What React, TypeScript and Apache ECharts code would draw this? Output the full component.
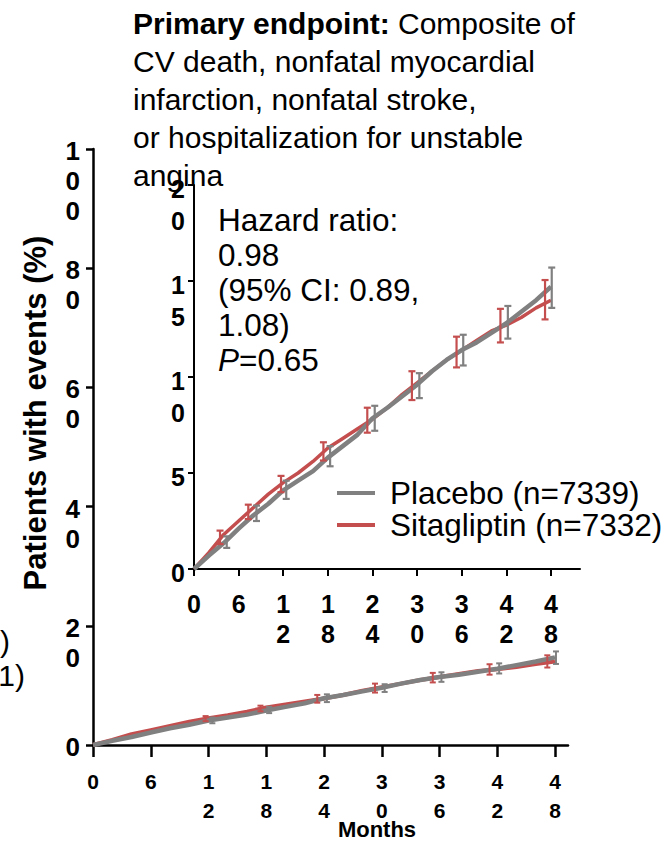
import { useEffect, useRef } from "react";
import * as echarts from "echarts";

const FONT = "'Liberation Sans', Arial, Helvetica, sans-serif";
const GRAY = "#808080";
const RED = "#c44e4e";

// Kaplan–Meier cumulative incidence (%), read every 2 months
const months = [0, 2, 4, 6, 8, 10, 12, 14, 16, 18, 20, 22, 24, 26, 28, 30, 32, 34, 36, 38, 40, 42, 44, 46, 48];
const placeboPct = [0, 0.7, 1.35, 2.1, 2.8, 3.4, 4.1, 4.6, 5.1, 5.8, 6.4, 7.0, 7.85, 8.4, 9.0, 9.6, 10.3, 10.9, 11.4, 11.8, 12.3, 12.8, 13.4, 14.0, 14.7];
const sitagliptinPct = [0, 0.85, 1.8, 2.5, 3.2, 3.9, 4.5, 5.0, 5.6, 6.3, 6.8, 7.3, 7.8, 8.4, 9.1, 9.7, 10.3, 10.9, 11.4, 11.9, 12.4, 12.7, 13.1, 13.6, 14.0];

// 95% confidence intervals shown as error bars
const placeboCiMonths = [4.4, 8.4, 12.4, 18.3, 24.3, 30.3, 36.2, 42.2, 48.1];
const placeboCiLow = [1.1, 2.5, 3.65, 5.35, 7.2, 8.9, 10.6, 12.0, 13.6];
const placeboCiHigh = [1.7, 3.3, 4.6, 6.4, 8.5, 10.2, 12.2, 13.7, 15.7];
const sitagliptinCiMonths = [3.5, 7.3, 11.7, 17.4, 23.3, 29.3, 35.3, 41.2, 47.2];
const sitagliptinCiLow = [1.3, 2.6, 4.0, 5.65, 7.1, 8.8, 10.5, 11.8, 13.0];
const sitagliptinCiHigh = [2.0, 3.35, 4.85, 6.6, 8.4, 10.3, 12.1, 13.55, 15.05];

const monthTicks = [0, 6, 12, 18, 24, 30, 36, 42, 48];

const PLACEBO = "Placebo (n=7339)";
const SITAGLIPTIN = "Sitagliptin (n=7332)";

const stackDigits = (v: number) => String(v).split("").join("\n");

const pairs = (xs: number[], ys: number[]) => xs.map((x, i) => [x, ys[i]]);
const triples = (xs: number[], lo: number[], hi: number[], from: number) =>
  xs.map((x, i) => [x, lo[i], hi[i]]).slice(from);

const ciRender = (color: string, cap: number, width: number) => (_p: any, api: any) => {
  const x = api.value(0);
  const a = api.coord([x, api.value(1)]);
  const b = api.coord([x, api.value(2)]);
  const style = { stroke: color, lineWidth: width };
  return {
    type: "group",
    children: [
      { type: "line", shape: { x1: a[0], y1: a[1], x2: b[0], y2: b[1] }, style },
      { type: "line", shape: { x1: a[0] - cap, y1: a[1], x2: a[0] + cap, y2: a[1] }, style },
      { type: "line", shape: { x1: b[0] - cap, y1: b[1], x2: b[0] + cap, y2: b[1] }, style },
    ],
  };
};

// idx: axis pair; ciFrom: first CI bar drawn on that panel
function buildSeries(idx: number, redW: number, grayW: number, cap: number, barW: number, ciFrom: number) {
  return [
    {
      name: SITAGLIPTIN,
      type: "line",
      xAxisIndex: idx,
      yAxisIndex: idx,
      data: pairs(months, sitagliptinPct),
      symbol: "none",
      color: RED,
      lineStyle: { color: RED, width: redW },
      z: 2,
    },
    {
      name: PLACEBO,
      type: "line",
      xAxisIndex: idx,
      yAxisIndex: idx,
      data: pairs(months, placeboPct),
      symbol: "none",
      color: GRAY,
      lineStyle: { color: GRAY, width: grayW },
      z: 3,
    },
    {
      name: "Sitagliptin CI",
      type: "custom",
      xAxisIndex: idx,
      yAxisIndex: idx,
      data: triples(sitagliptinCiMonths, sitagliptinCiLow, sitagliptinCiHigh, ciFrom),
      encode: { x: 0, y: [1, 2] },
      renderItem: ciRender(RED, cap, barW),
      z: 4,
    },
    {
      name: "Placebo CI",
      type: "custom",
      xAxisIndex: idx,
      yAxisIndex: idx,
      data: triples(placeboCiMonths, placeboCiLow, placeboCiHigh, ciFrom),
      encode: { x: 0, y: [1, 2] },
      renderItem: ciRender(GRAY, cap, barW),
      z: 4,
    },
  ];
}

const axisLine = (w: number) => ({ show: true, lineStyle: { color: "#000", width: w } });

export default function App() {
  const ref = useRef<HTMLDivElement>(null);

  useEffect(() => {
    document.body.style.margin = "0";
    if (!ref.current) return;
    const chart = echarts.init(ref.current, undefined, { renderer: "svg" });

    chart.setOption({
      animation: false,
      backgroundColor: "#fff",
      grid: [
        { left: 93, top: 149, width: 475, height: 596 },
        { left: 194, top: 185, width: 386, height: 384 },
      ],
      xAxis: [
        {
          gridIndex: 0,
          type: "value",
          min: 0,
          max: 49.35,
          axisLine: axisLine(2.5),
          splitLine: { show: false },
          axisTick: { length: 12, lineStyle: { width: 2.5, color: "#000" }, customValues: monthTicks },
          axisLabel: {
            customValues: monthTicks,
            formatter: stackDigits,
            fontFamily: FONT,
            fontWeight: "bold",
            fontSize: 21,
            lineHeight: 29,
            margin: 22,
            color: "#000",
          },
        },
        {
          gridIndex: 1,
          type: "value",
          min: 0,
          max: 51.9,
          axisLine: axisLine(2),
          splitLine: { show: false },
          axisTick: { length: 7, lineStyle: { width: 2, color: "#000" }, customValues: monthTicks },
          axisLabel: {
            customValues: monthTicks,
            formatter: stackDigits,
            fontFamily: FONT,
            fontWeight: "bold",
            fontSize: 25,
            lineHeight: 30,
            margin: 20,
            color: "#000",
          },
        },
      ],
      yAxis: [
        {
          gridIndex: 0,
          type: "value",
          min: 0,
          max: 100,
          interval: 20,
          axisLine: axisLine(2.5),
          splitLine: { show: false },
          axisTick: { show: true, length: 7, lineStyle: { width: 2.5, color: "#000" } },
          axisLabel: {
            formatter: stackDigits,
            fontFamily: FONT,
            fontWeight: "bold",
            fontSize: 26,
            lineHeight: 30,
            margin: 13,
            verticalAlign: "top",
            padding: [-13, 0, 0, 0],
            color: "#000",
          },
        },
        {
          gridIndex: 1,
          type: "value",
          min: 0,
          max: 20,
          interval: 5,
          axisLine: axisLine(2),
          splitLine: { show: false },
          axisTick: { show: true, length: 6, lineStyle: { width: 2, color: "#000" } },
          axisLabel: {
            formatter: stackDigits,
            fontFamily: FONT,
            fontWeight: "bold",
            fontSize: 25,
            lineHeight: 32,
            margin: 9,
            verticalAlign: "top",
            padding: [-12, 0, 0, 0],
            color: "#000",
          },
        },
      ],
      legend: {
        data: [PLACEBO, SITAGLIPTIN],
        orient: "vertical",
        left: 337,
        top: 477,
        padding: 0,
        icon: "rect",
        itemWidth: 38,
        itemHeight: 4,
        itemGap: 0,
        textStyle: {
          fontFamily: FONT,
          fontSize: 31.5,
          lineHeight: 32,
          color: "#000",
          padding: [0, 0, 0, 10],
        },
      },
      series: [...buildSeries(0, 4, 4.5, 3, 2, 2), ...buildSeries(1, 3.5, 4.5, 3.5, 2.2, 0)],
      graphic: [
        {
          type: "text",
          x: 133,
          y: 4,
          style: {
            text:
              "{b|Primary endpoint:} Composite of\nCV death, nonfatal myocardial\ninfarction, nonfatal stroke,\nor hospitalization for unstable\nangina",
            fontFamily: FONT,
            fontSize: 30,
            lineHeight: 38,
            fill: "#000",
            align: "left",
            verticalAlign: "top",
            rich: { b: { fontFamily: FONT, fontSize: 30, lineHeight: 38, fontWeight: "bold", fill: "#000" } },
          },
        },
        {
          type: "text",
          x: 218,
          y: 202,
          style: {
            text: "Hazard ratio:\n0.98\n(95% CI: 0.89,\n1.08)\n{i|P}=0.65",
            fontFamily: FONT,
            fontSize: 31.5,
            lineHeight: 35,
            fill: "#000",
            align: "left",
            verticalAlign: "top",
            rich: { i: { fontFamily: FONT, fontSize: 31.5, lineHeight: 35, fontStyle: "italic", fill: "#000" } },
          },
        },
        {
          type: "text",
          x: 35,
          y: 413,
          rotation: Math.PI / 2,
          style: {
            text: "Patients with events (%)",
            font: `bold 31px ${FONT}`,
            fill: "#000",
            align: "center",
            verticalAlign: "middle",
          },
        },
        {
          type: "text",
          x: 377,
          y: 829,
          style: {
            text: "Months",
            font: `bold 22px ${FONT}`,
            fill: "#000",
            align: "center",
            verticalAlign: "middle",
          },
        },
        {
          type: "text",
          x: 10,
          y: 641,
          style: { text: ")", font: `30px ${FONT}`, fill: "#000", align: "right", verticalAlign: "middle" },
        },
        {
          type: "text",
          x: 25,
          y: 675,
          style: { text: "1)", font: `30px ${FONT}`, fill: "#000", align: "right", verticalAlign: "middle" },
        },
      ],
    });

    return () => chart.dispose();
  }, []);

  return <div ref={ref} style={{ width: 669, height: 846 }} />;
}
